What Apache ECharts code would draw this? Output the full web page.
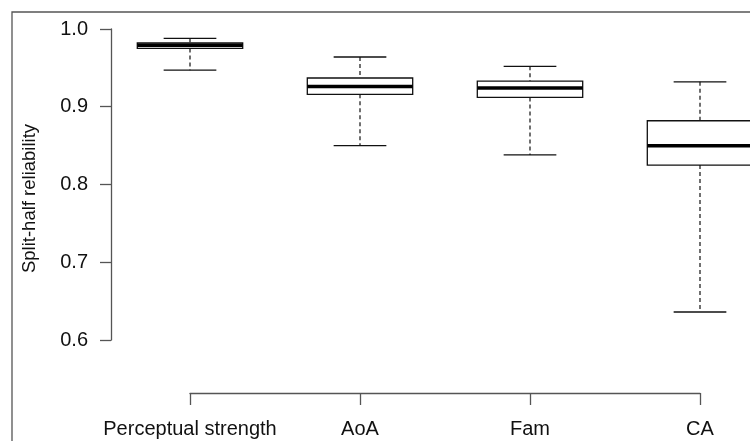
<!DOCTYPE html>
<html>
<head>
<meta charset="utf-8">
<script src="https://cdn.jsdelivr.net/npm/echarts@6/dist/echarts.min.js"></script>
<style>html,body{margin:0;padding:0;background:#fff}#c{width:750px;height:441px}</style>
</head>
<body>
<div id="c"></div>
<script>
var categories = ['Perceptual strength', 'AoA', 'Fam', 'CA'];
var whiskerLow = [0.947, 0.850, 0.838, 0.636];
var q1 = [0.975, 0.916, 0.912, 0.825];
var median = [0.979, 0.926, 0.924, 0.850];
var q3 = [0.982, 0.937, 0.933, 0.882];
var whiskerHigh = [0.988, 0.964, 0.952, 0.932];
var yTicks = [0.6, 0.7, 0.8, 0.9, 1.0];

var boxData = categories.map(function (c, i) {
  return [i, whiskerLow[i], q1[i], median[i], q3[i], whiskerHigh[i]];
});

var chart = echarts.init(document.getElementById('c'));
var FONT = 'Liberation Sans, Arial, Helvetica, sans-serif';

function renderItem(params, api) {
  var i = api.value(0);
  var band = api.size([1, 0])[0];
  var hw = band * 0.31, cw = band * 0.155;
  var pLo = api.coord([i, api.value(1)]);
  var pQ1 = api.coord([i, api.value(2)]);
  var pMed = api.coord([i, api.value(3)]);
  var pQ3 = api.coord([i, api.value(4)]);
  var pHi = api.coord([i, api.value(5)]);
  var x = pMed[0];
  var solid = {stroke: '#111', lineWidth: 1.3, fill: null};
  var dashed = {stroke: '#111', lineWidth: 1.2, lineDash: [4, 3], fill: null};
  return {
    type: 'group',
    children: [
      {type: 'line', shape: {x1: x, y1: pHi[1], x2: x, y2: pQ3[1]}, style: dashed},
      {type: 'line', shape: {x1: x, y1: pQ1[1], x2: x, y2: pLo[1]}, style: dashed},
      {type: 'line', shape: {x1: x - cw, y1: pHi[1], x2: x + cw, y2: pHi[1]}, style: solid},
      {type: 'line', shape: {x1: x - cw, y1: pLo[1], x2: x + cw, y2: pLo[1]}, style: solid},
      {type: 'rect', shape: {x: x - hw, y: pQ3[1], width: 2 * hw, height: pQ1[1] - pQ3[1]}, style: {stroke: '#111', lineWidth: 1.3, fill: '#fff'}},
      {type: 'line', shape: {x1: x - hw, y1: pMed[1], x2: x + hw, y2: pMed[1]}, style: {stroke: '#000', lineWidth: 3.5}}
    ]
  };
}

chart.setOption({
  animation: false,
  backgroundColor: '#fff',
  grid: [
    {left: 105, right: -35, top: 29, bottom: 101, containLabel: false, outerBoundsMode: 'none'},
    {left: 190, right: 50, top: 350, bottom: 48, containLabel: false, outerBoundsMode: 'none'}
  ],
  xAxis: [
    {type: 'category', gridIndex: 0, data: categories, boundaryGap: true, show: false},
    {type: 'category', gridIndex: 1, data: categories, boundaryGap: false, position: 'bottom',
      axisLine: {show: true, lineStyle: {color: '#555', width: 1.3}},
      axisTick: {show: true, length: 12, lineStyle: {color: '#555', width: 1.3}},
      axisLabel: {show: true, margin: 26, color: '#111', fontSize: 20, fontFamily: FONT, interval: 0},
      splitLine: {show: false}}
  ],
  yAxis: [
    {type: 'value', gridIndex: 0, min: 0.6, max: 1.0, interval: 0.1, offset: -6,
      name: 'Split-half reliability', nameLocation: 'middle', nameGap: 72,
      nameTextStyle: {color: '#111', fontSize: 18.5, fontFamily: FONT, padding: [0, 28, 0, 0]},
      axisLine: {show: true, lineStyle: {color: '#555', width: 1.3}},
      axisTick: {show: true, length: 11, lineStyle: {color: '#555', width: 1.3}},
      axisLabel: {show: true, margin: 23, color: '#111', fontSize: 20, fontFamily: FONT,
        formatter: function (v) { return v.toFixed(1); }},
      splitLine: {show: false}},
    {type: 'value', gridIndex: 1, show: false}
  ],
  graphic: [
    {type: 'rect', shape: {x: 12, y: 12, width: 900, height: 600}, style: {stroke: '#555', lineWidth: 1.3, fill: null}, silent: true, z: -1}
  ],
  series: [
    {type: 'custom', xAxisIndex: 0, yAxisIndex: 0, data: boxData, renderItem: renderItem, clip: false}
  ]
});
</script>
</body>
</html>
